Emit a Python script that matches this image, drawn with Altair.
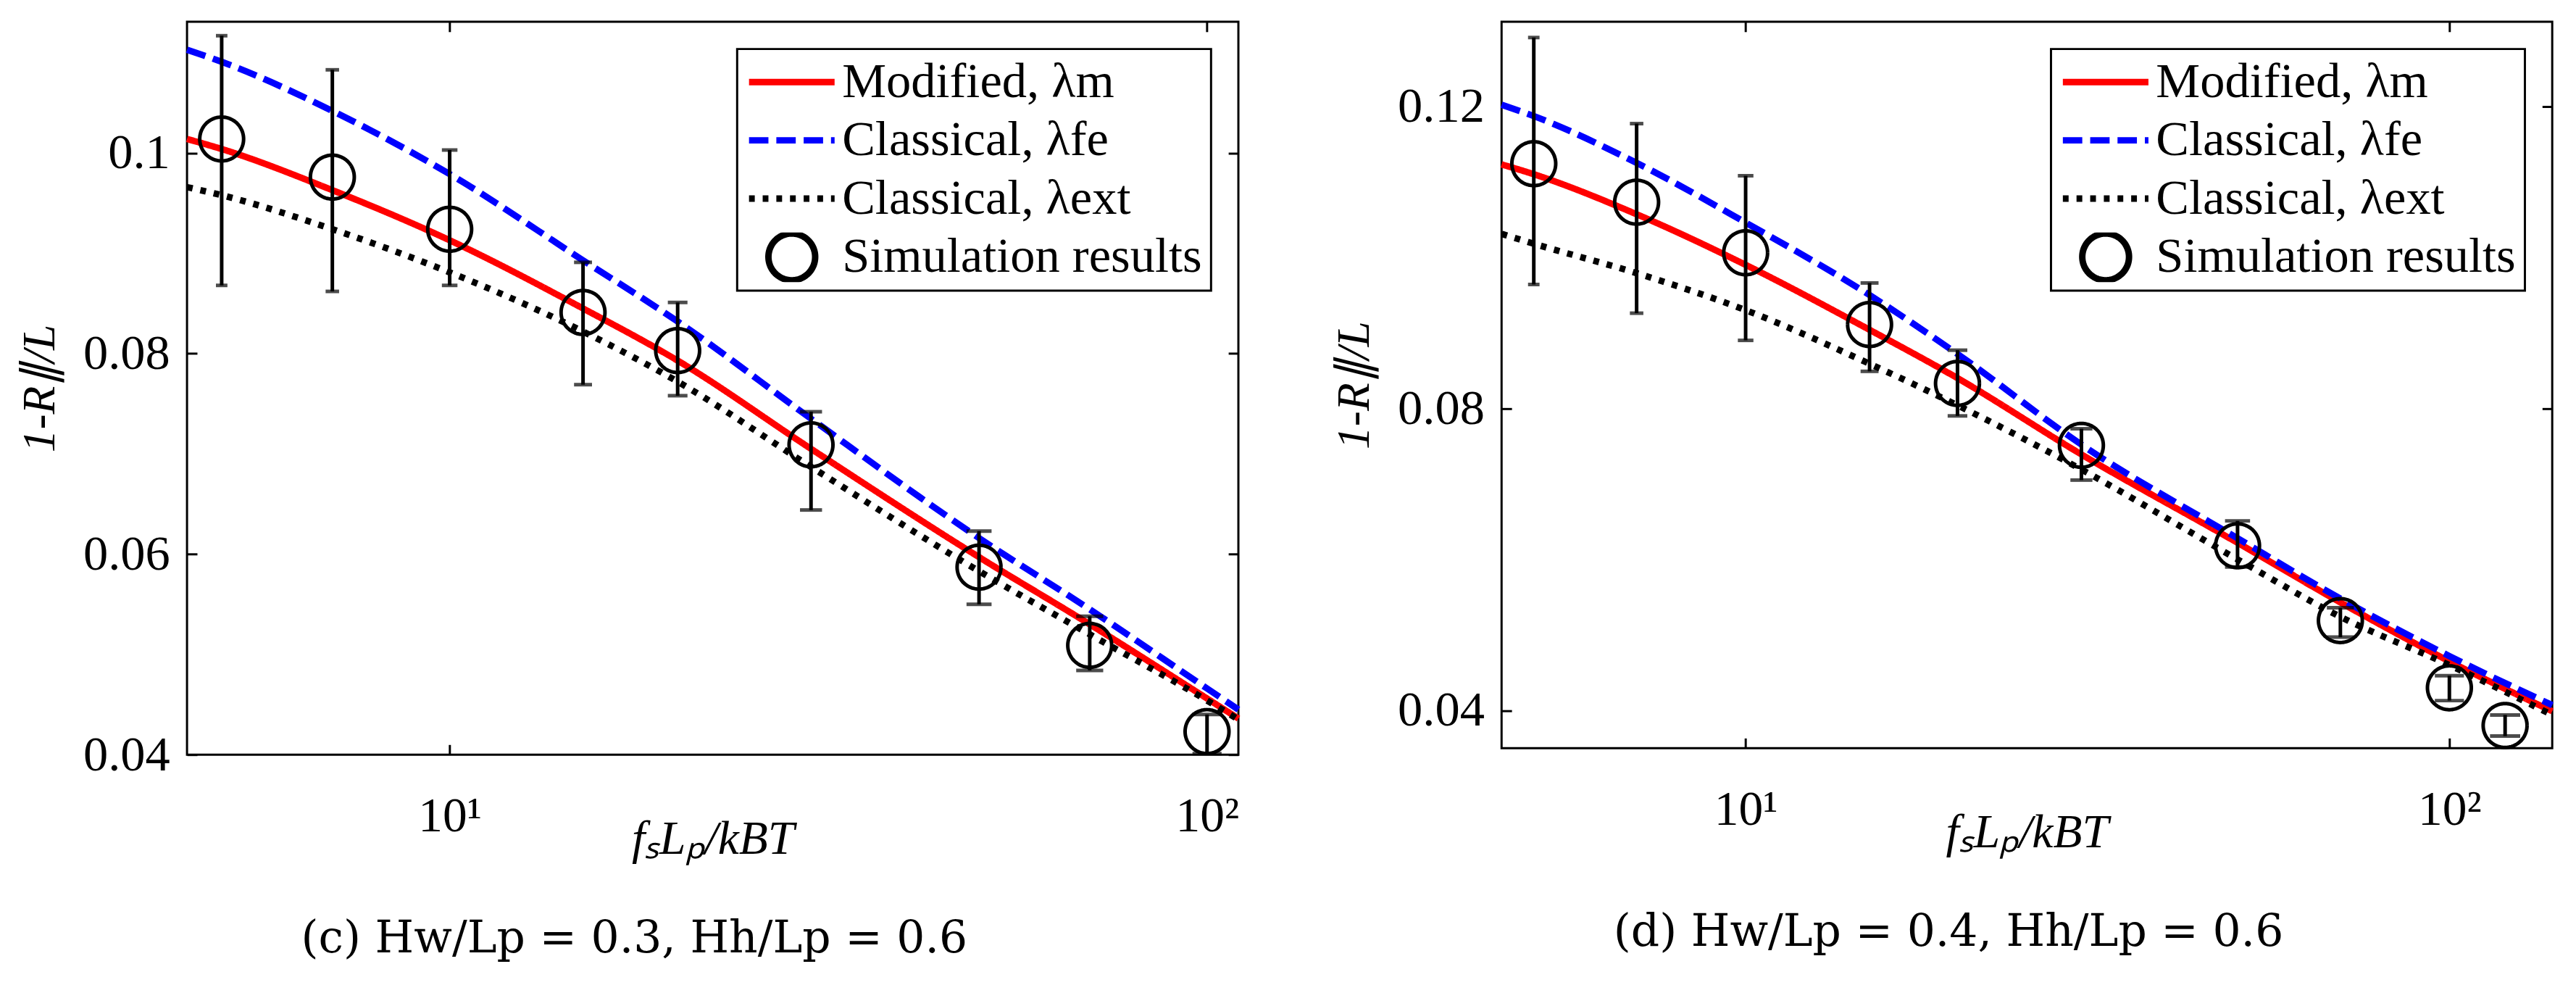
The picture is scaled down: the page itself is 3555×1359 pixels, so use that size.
import altair as alt
import pandas as pd

# ---------------- data ----------------
SERIES = ["Modified, λm", "Classical, λfe", "Classical, λext", "Simulation results"]
COLORS = ["#ff0000", "#0000ff", "#000000", "#000000"]
DASHES = [[1, 0], [27, 11], [8, 11], [1, 0]]
LINE_PATH = "M-1,0H1"
CIRCLE_PATH = "M0.546,0A0.546,0.546 0 1,1 -0.546,0A0.546,0.546 0 1,1 0.546,0Z"
SHAPES = [LINE_PATH, LINE_PATH, LINE_PATH, CIRCLE_PATH]

# panel (c)
X_CURVE_C = [4.5, 5, 7, 10, 15, 20, 30, 50, 70, 100, 110]
RED_C = [0.1014, 0.1004, 0.0963, 0.0913, 0.0845, 0.0793, 0.0705, 0.0597, 0.0530, 0.0456, 0.0436]
BLUE_C = [0.1103, 0.1091, 0.1042, 0.0979, 0.0893, 0.0832, 0.0735, 0.0616, 0.0545, 0.0466, 0.0445]
BLACK_C = [0.0966, 0.0958, 0.0924, 0.0881, 0.0822, 0.0772, 0.0687, 0.0583, 0.0520, 0.0454, 0.0435]
X_SIM_C = [5, 7, 10, 15, 20, 30, 50, 70, 100]
Y_SIM_C = [0.1014, 0.0976, 0.0924, 0.0841, 0.0803, 0.0709, 0.0587, 0.0509, 0.0423]
LO_SIM_C = [0.0868, 0.0862, 0.0868, 0.0769, 0.0758, 0.0644, 0.0550, 0.0484, 0.0401]
HI_SIM_C = [0.1117, 0.1083, 0.1003, 0.0891, 0.0851, 0.0742, 0.0623, 0.0538, 0.0440]

# panel (d)
X_CURVE_D = [4.5, 5, 7, 10, 15, 20, 30, 50, 70, 100, 140]
RED_D = [0.1123, 0.1110, 0.1057, 0.0990, 0.0904, 0.0840, 0.0739, 0.0622, 0.0543, 0.0465, 0.0399]
BLUE_D = [0.1202, 0.1187, 0.1125, 0.1046, 0.0950, 0.0872, 0.0752, 0.0628, 0.0548, 0.0472, 0.0407]
BLACK_D = [0.1031, 0.1018, 0.0979, 0.0930, 0.0859, 0.0804, 0.0719, 0.0600, 0.0524, 0.0460, 0.0394]
X_SIM_D = [5, 7, 10, 15, 20, 30, 50, 70, 100, 120]
Y_SIM_D = [0.1124, 0.1073, 0.1006, 0.0911, 0.0833, 0.0751, 0.0618, 0.0519, 0.0430, 0.0380]
LO_SIM_D = [0.0964, 0.0926, 0.0890, 0.0849, 0.0790, 0.0705, 0.0590, 0.0497, 0.0413, 0.0366]
HI_SIM_D = [0.1291, 0.1177, 0.1108, 0.0966, 0.0877, 0.0773, 0.0651, 0.0536, 0.0446, 0.0394]

X_TICKS = [10, 100]
Y_TICKS_C = [0.04, 0.06, 0.08, 0.1]
Y_TICKS_D = [0.04, 0.08, 0.12]

CAPTION_C = "(c)  Hw/Lp = 0.3, Hh/Lp = 0.6"
CAPTION_D = "(d)  Hw/Lp = 0.4, Hh/Lp = 0.6"
X_TITLE = "fₛLₚ/kBT"
Y_TITLE = "1-R∥/L"

FONT = "Liberation Serif"


def curve_df(xs, red, blue, black):
    rows = []
    for name, ys in zip(SERIES[:3], [red, blue, black]):
        for x, y in zip(xs, ys):
            rows.append({"x": x, "y": y, "series": name})
    return pd.DataFrame(rows)


def sim_df(xs, ys, lo, hi):
    return pd.DataFrame({"x": xs, "y": ys, "lo": lo, "hi": hi, "series": SERIES[3]})


def tick_axis(orient, offset, values):
    return alt.Axis(orient=orient, offset=offset, values=values, labels=False,
                    domain=False, grid=False, ticks=True, tickSize=14, tickWidth=3,
                    tickColor="black", title=None)


def panel(curves, sims, xdom, ydom, yticks, W, H, caption, title_x=-185, title_y=137):
    xs = alt.Scale(type="log", domain=xdom, nice=False)
    ys = alt.Scale(domain=ydom, nice=False, zero=False)
    leg = alt.Legend(title=None, orient="top-right", offset=38)
    color = alt.Color("series:N", scale=alt.Scale(domain=SERIES, range=COLORS), legend=leg)
    dash = alt.StrokeDash("series:N", scale=alt.Scale(domain=SERIES, range=DASHES), legend=leg)
    shape = alt.Shape("series:N", scale=alt.Scale(domain=SERIES, range=SHAPES), legend=leg)

    main_x = alt.Axis(orient="bottom", values=X_TICKS,
                      labelExpr="datum.value == 10 ? '10¹' : '10²'",
                      ticks=True, tickSize=0, domain=False, grid=False,
                      labelFont=FONT, labelFontSize=68, labelPadding=52,
                      labelColor="black", labelFlush=False,
                      title=X_TITLE, titleFont=FONT, titleFontSize=66,
                      titleFontStyle="italic", titleFontWeight="normal",
                      titleColor="black", titleBaseline="alphabetic",
                      titleY=title_y, titleX=W / 2)
    main_y = alt.Axis(orient="left", values=yticks, format=".2~f",
                      ticks=True, tickSize=0, domain=False, grid=False,
                      labelFont=FONT, labelFontSize=69, labelPadding=24,
                      labelColor="black",
                      title=Y_TITLE, titleFont=FONT, titleFontSize=64,
                      titleFontStyle="italic", titleFontWeight="normal",
                      titleColor="black", titleBaseline="alphabetic",
                      titleX=title_x, titleY=H / 2)

    lines = alt.Chart(curves).mark_line(strokeWidth=9, interpolate="monotone",
                                        strokeCap="butt").encode(
        x=alt.X("x:Q", scale=xs, axis=main_x),
        y=alt.Y("y:Q", scale=ys, axis=main_y),
        color=color, strokeDash=dash)

    bars = alt.Chart(sims).mark_rule(strokeWidth=5, color="black").encode(
        x=alt.X("x:Q", scale=xs, axis=tick_axis("bottom", -H, X_TICKS)),
        y=alt.Y("lo:Q", scale=ys, axis=tick_axis("left", -W, yticks)),
        y2="hi:Q")

    caps = alt.Chart(sims).transform_fold(["lo", "hi"], as_=["end", "v"]).mark_tick(
        orient="horizontal", thickness=5, color="black").encode(
        x=alt.X("x:Q", scale=xs, axis=None),
        y=alt.Y("v:Q", scale=ys, axis=None),
        size=alt.Size("x:Q", scale=alt.Scale(type="log", domain=[5, 120], range=[16, 42]),
                      legend=None))

    pts = alt.Chart(sims).mark_point(filled=False, size=12480, strokeWidth=5,
                                     opacity=1).encode(
        x=alt.X("x:Q", scale=xs, axis=tick_axis("top", -H, X_TICKS)),
        y=alt.Y("y:Q", scale=ys, axis=tick_axis("right", -W, yticks)),
        color=color, strokeDash=dash, shape=shape)

    return alt.layer(lines, bars, caps, pts).resolve_axis(
        x="independent", y="independent").properties(
        width=W, height=H,
        title=alt.TitleParams(text=caption, orient="bottom", anchor="middle",
                              frame="bounds", font="DejaVu Serif", fontSize=62,
                              fontWeight="normal", color="black", baseline="top",
                              offset=76))


left = panel(curve_df(X_CURVE_C, RED_C, BLUE_C, BLACK_C),
             sim_df(X_SIM_C, Y_SIM_C, LO_SIM_C, HI_SIM_C),
             [4.5, 110], [0.04, 0.1131], Y_TICKS_C, 1462, 1019, CAPTION_C)
right = panel(curve_df(X_CURVE_D, RED_D, BLUE_D, BLACK_D),
              sim_df(X_SIM_D, Y_SIM_D, LO_SIM_D, HI_SIM_D),
              [4.5, 140], [0.035, 0.1312], Y_TICKS_D, 1461, 1010, CAPTION_D)

chart = alt.hconcat(left, right, spacing=108).resolve_scale(
    x="independent", y="independent", color="independent",
    strokeDash="independent", shape="independent", size="independent",
).resolve_legend(color="independent", strokeDash="independent", shape="independent",
).configure(
    padding={"left": 14, "top": 14, "right": 5, "bottom": 5},
    font=FONT,
).configure_view(stroke="black", strokeWidth=3).configure_legend(
    orient="top-right", offset=38, padding=12, strokeColor="black", strokeWidth=3,
    fillColor="white", cornerRadius=0, direction="vertical", columns=1,
    labelFont=FONT, labelFontSize=69, labelColor="black", labelOffset=6,
    labelLimit=2000, symbolSize=14161, clipHeight=68, rowPadding=12,
    symbolStrokeWidth=9, symbolFillColor="transparent", symbolOffset=0,
)

chart.save("out.html", embed_options={"renderer": "svg", "actions": False})
